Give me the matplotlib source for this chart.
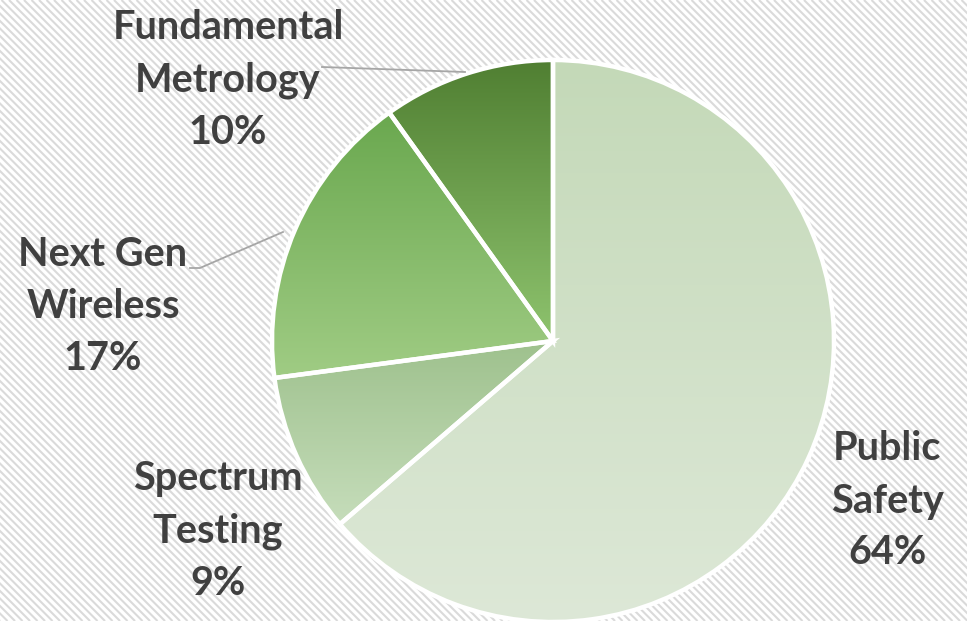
import numpy as np
import matplotlib
matplotlib.use("Agg")
from matplotlib import pyplot as plt
from matplotlib.colors import LinearSegmentedColormap

# slice data, clockwise from 12 o'clock
labels = ["Public\nSafety", "Spectrum\nTesting", "Next Gen\nWireless", "Fundamental\nMetrology"]
values = [63.7, 9.2, 17.2, 9.9]
pct_text = ["64%", "9%", "17%", "10%"]
top_colors = ["#C4D9B8", "#9EC18D", "#6AA84F", "#507F32"]
bottom_colors = ["#DDE8D7", "#C6DDBB", "#A0CC84", "#8EC36E"]

W, H = 967, 621
fig = plt.figure(figsize=(W / 100, H / 100), dpi=100)
ax = fig.add_axes([0, 0, 1, 1])
ax.set_xlim(0, W)
ax.set_ylim(0, H)
ax.set_aspect("equal")
ax.axis("off")

# striped background
fig.patch.set_facecolor("white")
for x0 in np.arange(-H, W + 8, 7.5):
    ax.plot([x0, x0 + H], [H, 0], color="#DADADA", lw=1.5, zorder=0,
            solid_capstyle="butt")

cx, cy, r = 553, 621 - 341, 281
wedges, _ = ax.pie(values, startangle=90, counterclock=False, center=(cx, cy),
                   radius=r, frame=True,
                   wedgeprops=dict(facecolor="none", edgecolor="white", linewidth=3.2))
ax.set_xlim(0, W)
ax.set_ylim(0, H)
ax.axis("off")

# vertical gradient in each slice
for w, ct, cb in zip(wedges, top_colors, bottom_colors):
    w.set_zorder(3)
    bb = w.get_path().get_extents(w.get_transform() - ax.transData)
    cmap = LinearSegmentedColormap.from_list("g", [cb, ct])
    grad = np.linspace(0, 1, 256).reshape(-1, 1)
    im = ax.imshow(grad, cmap=cmap, origin="lower", aspect="auto",
                   extent=[bb.x0, bb.x1, bb.y0, bb.y1], zorder=2,
                   interpolation="bilinear")
    im.set_clip_path(w)
ax.set_xlim(0, W)
ax.set_ylim(0, H)

# labels
label_pos = [(887, 621 - 501), (218, 621 - 531), (103, 621 - 307), (228, 621 - 80)]
for lab, p, (lx, ly) in zip(labels, pct_text, label_pos):
    ax.text(lx, ly, lab + "\n" + p, ha="center", va="center", fontsize=28.5,
            fontweight="bold", family="Lato", color="#404040", linespacing=1.5,
            zorder=5)

# leader lines
ax.plot([322, 465], [621 - 67, 621 - 72], color="#A6A6A6", lw=1.3, zorder=4)
ax.plot([190, 200, 283], [621 - 268, 621 - 268, 621 - 232], color="#A6A6A6",
        lw=1.3, zorder=4)

fig.savefig("out.png", dpi=100)
